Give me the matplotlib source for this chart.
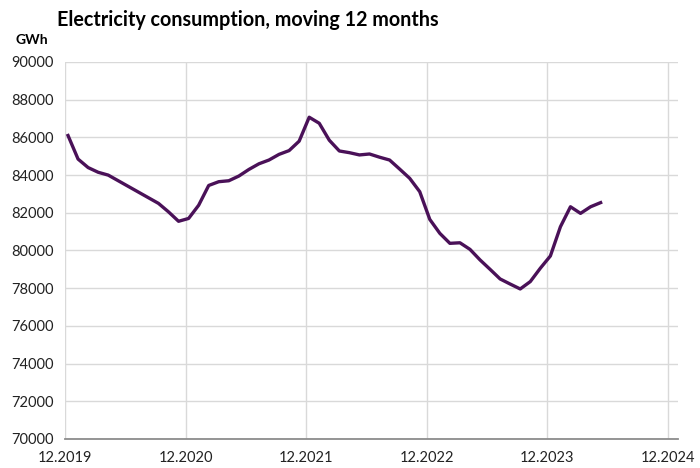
import numpy as np
import matplotlib
matplotlib.use("Agg")
from matplotlib import pyplot as plt

# moving 12-month sum, monthly from 12.2019 to 05.2024 (GWh)
consumption = [86100, 84850, 84400, 84150, 84000, 83700, 83400, 83100, 82800, 82500,
               82050, 81550, 81700, 82400, 83450, 83650, 83700, 83950, 84300, 84600,
               84800, 85100, 85300, 85800, 87070, 86750, 85850, 85280, 85190, 85070,
               85120, 84950, 84800, 84320, 83830, 83120, 81650, 80910, 80380, 80410,
               80060, 79500, 79000, 78490, 78220, 77960, 78350, 79060, 79710, 81260,
               82320, 81970, 82320, 82540]
months = np.arange(len(consumption))
tick_labels = ["12.2019", "12.2020", "12.2021", "12.2022", "12.2023", "12.2024"]
y_ticks = list(range(70000, 90001, 2000))

plt.rcParams['font.family'] = ['Lato', 'DejaVu Sans']

fig = plt.figure(figsize=(7, 4.68), dpi=100)
ax = fig.add_axes([65/700, 1-439/468, (678-65)/700, (439-62)/468])

ax.plot(months + 0.3, consumption, color='#4a1158', linewidth=2.4, solid_joinstyle='round', zorder=3)

ax.set_xlim(0, 61)
ax.set_ylim(70000, 90000)
ax.set_xticks(np.arange(0, 61, 12))
ax.set_xticklabels(tick_labels)
ax.set_yticks(y_ticks)
ax.set_yticklabels([str(v) for v in y_ticks])
ax.grid(True, color='#d9d9d9', linewidth=1)
ax.set_axisbelow(True)
ax.tick_params(length=0, labelsize=10.5, colors='#222222')
ax.tick_params(axis='x', pad=9)
ax.tick_params(axis='y', pad=8)
for s in ['top', 'right', 'left']:
    ax.spines[s].set_visible(False)
ax.spines['bottom'].set_color('#8c8c8c')
ax.spines['bottom'].set_linewidth(1.3)

fig.text(57/700, 1-20/468, "Electricity consumption, moving 12 months", fontsize=14.2,
         fontweight='bold', va='center', ha='left')
fig.text(15/700, 1-40/468, "GWh", fontsize=10, fontweight='bold', va='center', ha='left')

fig.savefig("out.png", dpi=100)
